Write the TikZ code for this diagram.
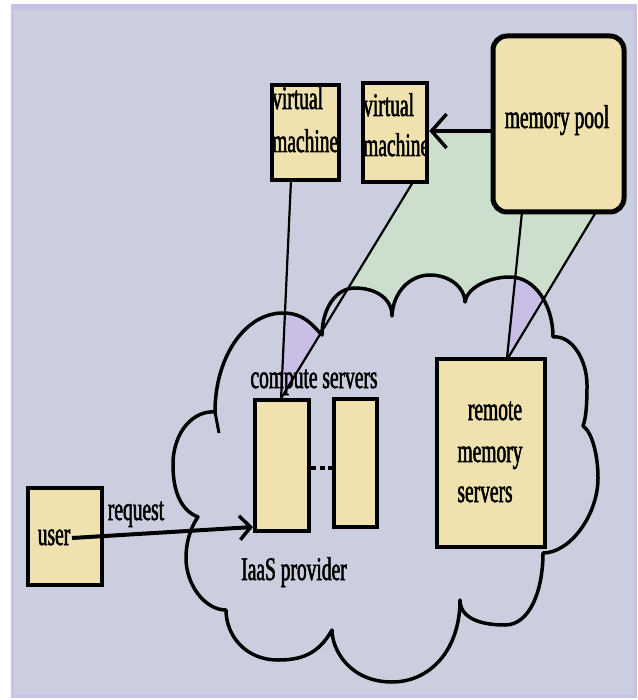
\documentclass[tikz,border=0pt]{standalone}
\usepackage{fontspec}
\newfontfamily\tnr[FakeStretch=0.59,FakeBold=1.6]{Liberation Serif}
\usetikzlibrary{arrows.meta}
\definecolor{bgc}{HTML}{CBCEDE}
\definecolor{framec}{HTML}{C8C0E6}
\definecolor{boxc}{HTML}{EFE2AE}
\definecolor{greenc}{HTML}{CCDECC}
\definecolor{purplec}{HTML}{C8BEE6}
\def\cloudpath{(215,412) .. controls (215,357) and (245,313) .. (283,313)
 .. controls (305,313) and (314,327) .. (322,335)
 .. controls (322,310) and (335,288) .. (355,288)
 .. controls (375,288) and (392,298) .. (392,316)
 .. controls (393,292) and (410,275) .. (430,275)
 .. controls (450,275) and (465,288) .. (465,302)
 .. controls (467,288) and (488,277) .. (510,277)
 .. controls (535,277) and (553,305) .. (553,337)
 .. controls (572,335) and (587,360) .. (587,385)
 .. controls (587,405) and (586,418) .. (583,426)
 .. controls (592,432) and (598,455) .. (598,478)
 .. controls (598,515) and (570,553) .. (543,553)
 .. controls (543,590) and (530,625) .. (505,625)
 .. controls (480,625) and (460,618) .. (460,600)
 .. controls (460,650) and (430,682) .. (392,682)
 .. controls (350,682) and (332,650) .. (332,630)
 .. controls (318,655) and (300,660) .. (278,660)
 .. controls (245,660) and (226,635) .. (226,610)
 .. controls (205,610) and (186,585) .. (186,558)
 .. controls (186,540) and (192,525) .. (198,517)
 .. controls (180,510) and (173,490) .. (173,465)
 .. controls (173,430) and (195,410) .. (215,412) -- cycle}
\begin{document}
\begin{tikzpicture}[x=1pt,y=-1pt,
  box/.style={draw=black, fill=boxc, line width=4.5pt, inner sep=0pt},
  lbl/.style={font=\tnr\fontsize{33}{40}\selectfont, inner sep=0pt, anchor=base},
  conn/.style={line width=2.2pt},
  arr/.style={line width=4pt, -{Straight Barb[length=15pt,width=34pt,line width=3.5pt]}},
  arrb/.style={line width=4pt, -{Straight Barb[length=11pt,width=24pt,line width=3.5pt]}}]
\useasboundingbox (0,0) rectangle (637,700);
\fill[white] (0,0) rectangle (637,700);
\filldraw[fill=bgc, draw=framec, line width=3pt] (12.5,6) rectangle (635,696);
\fill[framec] (11,4) rectangle (636.5,10);
% green band
\fill[greenc] (413,182) -- (427,182) -- (427,132) -- (493,132) -- (493,212) -- (596,212) -- (508,357) -- (280,400) -- cycle;
% cloud
\fill[bgc] \cloudpath;
\fill[purplec] (285,314) .. controls (304,313) and (313,326) .. (320,334) -- (280,400) -- (281,400) -- cycle;
\fill[purplec] (515,279) .. controls (526,281) and (535,289) .. (541,298) -- (508,357) -- (507,357) -- cycle;
\draw[line width=3.5pt, line join=round] \cloudpath;
\coordinate (h1) at (215,412);
\coordinate (h2) at (219,433);
\draw[line width=3pt] (h1) -- (h2);
% named endpoints of connectors
\coordinate (a1) at (291,180);
\coordinate (a2) at (281,400);
\coordinate (b1) at (413,182);
\coordinate (b2) at (280,400);
\coordinate (c1) at (522,212);
\coordinate (c2) at (507,358);
\coordinate (d1) at (596,212);
\coordinate (d2) at (508,358);
\draw[conn] (a1) -- (a2);
\draw[conn] (b1) -- (b2);
\draw[conn] (c1) -- (c2);
\draw[conn] (d1) -- (d2);
% boxes
\node[box, minimum width=67pt, minimum height=95pt] (vm1) at (305.5,132.5) {};
\node[box, minimum width=64pt, minimum height=99pt] (vm2) at (395,132.5) {};
\node[box, line width=5pt, rounded corners=14pt, minimum width=131pt, minimum height=176pt] (pool) at (558.5,124) {};
\node[box, line width=4pt, minimum width=54pt, minimum height=131pt] (cs1) at (282,465.5) {};
\node[box, line width=4pt, minimum width=43pt, minimum height=128pt] (cs2) at (355.5,463) {};
\node[box, minimum width=108pt, minimum height=188pt] (rms) at (491,453) {};
\node[box, line width=4pt, minimum width=74pt, minimum height=97pt] (user) at (65,536.5) {};
% texts
\node[lbl, anchor=base west] (v1a) at (272,109) {virtual};
\node[lbl, anchor=base west] (v1b) at (272,152) {machine};
\node[lbl, anchor=base west] (v2a) at (363,116) {virtual};
\node[lbl, anchor=base west] (v2b) at (363,156) {machine};
\node[lbl] (tpool) at (557,128) {memory pool};
\node[lbl] (tcs) at (314,388) {compute servers};
\node[lbl] (tr1) at (495,420) {remote};
\node[lbl] (tr2) at (490,462) {memory};
\node[lbl] (tr3) at (485,502) {servers};
\node[lbl] (treq) at (136,520) {request};
\node[lbl] (tuser) at (54,545) {user};
\node[lbl] (tiaas) at (294,580) {IaaS provider};
% dots between compute servers
\draw[line width=4pt, dash pattern=on 5pt off 3.5pt] (cs1.east |- 0,468) -- (cs2.west |- 0,468);
% arrows
\coordinate (ma) at (460,131);
\draw[arr] (pool.west |- ma) -- (vm2.east |- ma);
\coordinate (rq0) at (72,538);
\coordinate (rqtip) at (253,527);
\draw[arrb] (rq0) -- (rqtip);
\end{tikzpicture}
\end{document}
